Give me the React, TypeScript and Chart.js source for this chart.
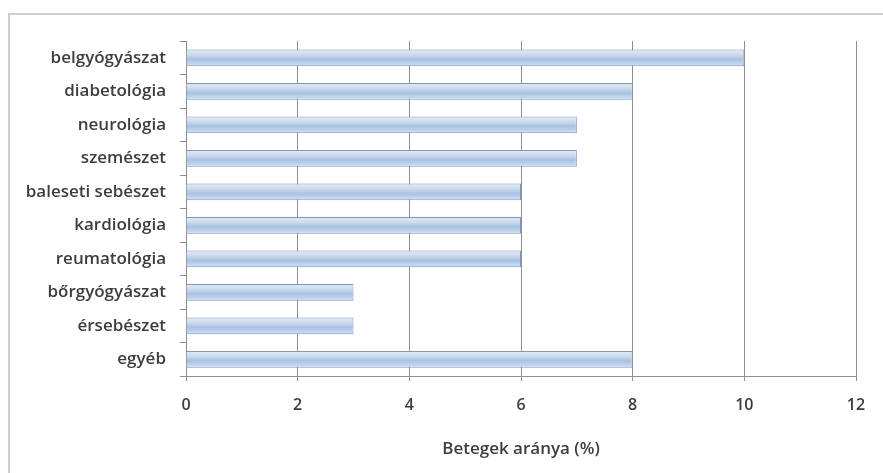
import React, { useEffect, useRef } from "react";
import { Chart, registerables } from "chart.js";

Chart.register(...registerables);

const categories = [
  "belgyógyászat",
  "diabetológia",
  "neurológia",
  "szemészet",
  "baleseti sebészet",
  "kardiológia",
  "reumatológia",
  "bőrgyógyászat",
  "érsebészet",
  "egyéb",
];
const shares = [10, 8, 7, 7, 6, 6, 6, 3, 3, 8];
const xTickMax = 12;
const xTickStep = 2;
const xTitle = "Betegek aránya (%)";

const FONT = "'Open Sans', Lato, sans-serif";
const TEXT = "#3d3d3d";

// thin light frame around the chart (left and top edges)
const framePlugin = {
  id: "frame",
  beforeDraw(chart: any) {
    const { ctx } = chart;
    ctx.save();
    ctx.strokeStyle = "#cfcfcf";
    ctx.lineWidth = 2;
    ctx.beginPath();
    ctx.moveTo(9, chart.height);
    ctx.lineTo(9, 14);
    ctx.lineTo(chart.width, 14);
    ctx.stroke();
    ctx.restore();
  },
};

export default function App() {
  const ref = useRef<HTMLCanvasElement>(null);

  useEffect(() => {
    document.body.style.margin = "0";
    const canvas = ref.current!;
    const chart = new Chart(canvas, {
      type: "bar",
      data: {
        labels: categories,
        datasets: [
          {
            data: shares,
            backgroundColor: (c: any) => {
              const y = c.chart.scales?.y;
              const mid = y ? y.getPixelForValue(c.dataIndex) : NaN;
              if (!Number.isFinite(mid)) return "#c4d5ec";
              const half = 8.5;
              const g = c.chart.ctx.createLinearGradient(0, mid - half, 0, mid + half);
              g.addColorStop(0, "#e3ecf8");
              g.addColorStop(0.3, "#cddcf0");
              g.addColorStop(0.6, "#a9c1e2");
              g.addColorStop(1, "#d3e0f2");
              return g;
            },
            borderColor: "#7e97bb",
            borderWidth: 1,
            barPercentage: 0.5,
            categoryPercentage: 1,
          },
        ],
      },
      options: {
        indexAxis: "y",
        animation: false,
        responsive: false,
        layout: { padding: { top: 41, right: 27, left: 0, bottom: 0 } },
        plugins: {
          legend: { display: false },
          tooltip: { enabled: false },
        },
        scales: {
          x: {
            min: 0,
            max: xTickMax,
            ticks: {
              stepSize: xTickStep,
              color: TEXT,
              font: { family: FONT, size: 16, weight: 600 },
              padding: 15,
            },
            grid: {
              color: "#8f8f8f",
              lineWidth: 1,
              tickLength: 5,
              drawOnChartArea: true,
            },
            border: { color: "#8f8f8f", width: 1 },
            title: {
              display: true,
              text: xTitle,
              color: TEXT,
              font: { family: FONT, size: 17, weight: 600 },
              padding: { top: 0, bottom: 14 },
            },
            afterFit: (s: any) => {
              s.height = 97;
            },
          },
          y: {
            offset: true,
            ticks: {
              color: TEXT,
              font: { family: FONT, size: 17, weight: 600 },
              padding: 14,
            },
            grid: {
              offset: true,
              drawOnChartArea: false,
              color: "#8f8f8f",
              tickLength: 6,
            },
            border: { color: "#8f8f8f", width: 1 },
            afterFit: (s: any) => {
              s.width = 186;
            },
          },
        },
      },
      plugins: [framePlugin],
    });
    return () => chart.destroy();
  }, []);

  return (
    <div style={{ width: 883, height: 473, background: "#fff" }}>
      <canvas ref={ref} width={883} height={473} style={{ display: "block" }} />
    </div>
  );
}
